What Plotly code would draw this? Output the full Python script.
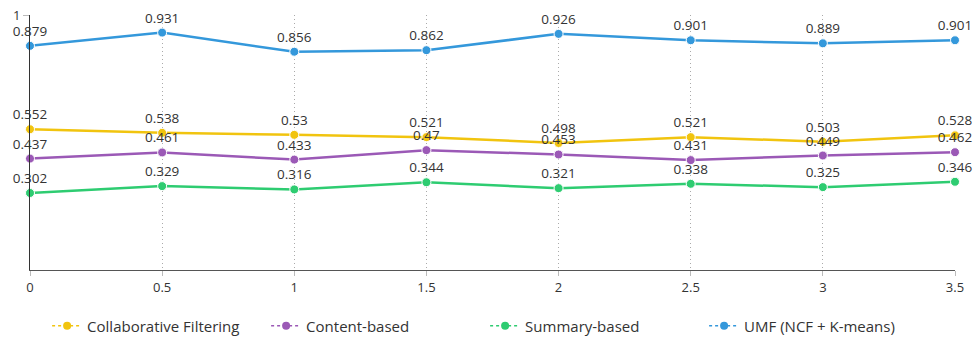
import plotly.graph_objects as go

x_vals = [0, 0.5, 1, 1.5, 2, 2.5, 3, 3.5]
cf = [0.552, 0.538, 0.53, 0.521, 0.498, 0.521, 0.503, 0.528]
cb = [0.437, 0.461, 0.433, 0.47, 0.453, 0.431, 0.449, 0.462]
sb = [0.302, 0.329, 0.316, 0.344, 0.321, 0.338, 0.325, 0.346]
umf = [0.879, 0.931, 0.856, 0.862, 0.926, 0.901, 0.889, 0.901]

names = ["Collaborative Filtering", "Content-based", "Summary-based", "UMF (NCF + K-means)"]
colors = ["#F1C40F", "#9B59B6", "#2ECC71", "#3498DB"]
series = [cf, cb, sb, umf]

font_family = "Open Sans, Roboto, sans-serif"

fig = go.Figure()
for name, col, ys in zip(names, colors, series):
    fig.add_trace(go.Scatter(
        x=x_vals, y=ys, mode="lines+markers+text",
        line=dict(color=col, width=2.5),
        marker=dict(color=col, size=9, line=dict(color="white", width=1)),
        text=[f"{v:g}" for v in ys], textposition="top center",
        textfont=dict(size=13.5, color="#333333", family=font_family),
        cliponaxis=False, showlegend=False, name=name,
    ))
for name, col in zip(names, colors):
    fig.add_trace(go.Scatter(
        x=[None], y=[None], mode="lines+markers", name=name,
        line=dict(color=col, width=1.5, dash="dot"),
        marker=dict(color=col, size=8),
    ))

fig.update_layout(
    width=974, height=338,
    margin=dict(l=30, r=19, t=15, b=68, autoexpand=False),
    paper_bgcolor="white", plot_bgcolor="white",
    font=dict(family=font_family, color="#333333", size=13),
    legend=dict(orientation="h", x=0.0185, xanchor="left", y=-0.22, yanchor="middle",
                entrywidth=174, entrywidthmode="pixels",
                font=dict(size=15, color="#333333")),
    xaxis=dict(range=[0, 3.5], tickvals=x_vals, ticktext=[f"{v:g}" for v in x_vals],
               showgrid=True, gridcolor="#aaaaaa", griddash="1px,3px", gridwidth=1,
               showline=True, linecolor="#555555", linewidth=1,
               ticks="outside", ticklen=5, tickcolor="#bbbbbb",
               zeroline=False, tickfont=dict(size=13, color="#333333")),
    yaxis=dict(range=[0, 1], tickvals=[1], ticktext=["1"], showgrid=False,
               showline=True, linecolor="#333333", linewidth=1,
               ticks="outside", ticklen=6, tickcolor="#bbbbbb",
               zeroline=False, tickfont=dict(size=13, color="#333333")),
)

fig.write_html("out.html")
